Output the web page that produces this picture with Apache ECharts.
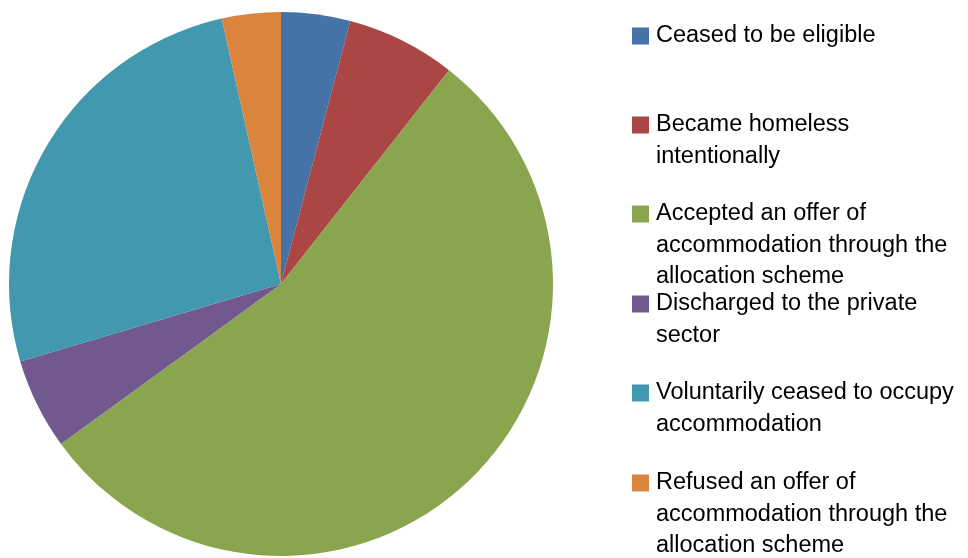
<!DOCTYPE html>
<html>
<head>
<meta charset="utf-8">
<script src="https://cdn.jsdelivr.net/npm/echarts@6/dist/echarts.min.js"></script>
<style>
html, body { margin: 0; padding: 0; background: #fff; }
#chart { width: 968px; height: 558px; }
</style>
</head>
<body>
<div id="chart"></div>
<script>
// share of cases (%)
const categories = [
    "Ceased to be eligible",
    "Became homeless intentionally",
    "Accepted an offer of accommodation through the allocation scheme",
    "Discharged to the private sector",
    "Voluntarily ceased to occupy accommodation",
    "Refused an offer of accommodation through the allocation scheme"
];
const values = [4.1, 6.5, 54.4, 5.4, 26.1, 3.5];
const legendLines = [
    ["Ceased to be eligible"],
    ["Became homeless", "intentionally"],
    ["Accepted an offer of", "accommodation through the", "allocation scheme"],
    ["Discharged to the private", "sector"],
    ["Voluntarily ceased to occupy", "accommodation"],
    ["Refused an offer of", "accommodation through the", "allocation scheme"]
];
const colors = ["#4572A7", "#AA4643", "#89A54E", "#71588F", "#4198AF", "#DB843D"];

const lineH = 31.5;
const firstLineY = [36, 125, 214, 304, 393, 483];

let chart = echarts.init(document.getElementById("chart"), null, { renderer: "canvas" });

// one legend per entry so every entry sits at a fixed step like the original.
// the legend text is centred on the marker, so blank lines go in front to
// keep the marker level with the first line
let legends = categories.map(function(name, i) {
    let n = legendLines[i].length;
    let pad = [];
    for (let k = 1; k < n; k++) pad.push("");
    return {
        data: [name],
        left: 632,
        top: firstLineY[i] - (2 * n - 1) * lineH / 2,
        padding: 0,
        orient: "vertical",
        icon: "rect",
        itemWidth: 17,
        itemHeight: 17,
        selectedMode: false,
        formatter: function() {
            return pad.concat(legendLines[i]).join("\n");
        },
        textStyle: {
            fontFamily: "Liberation Sans",
            fontSize: 23.5,
            color: "#000",
            lineHeight: lineH,
            padding: [0, 0, 0, 2]
        }
    };
});

chart.setOption({
    animation: false,
    color: colors,
    legend: legends,
    series: [{
        type: "pie",
        center: [281, 284],
        radius: 272,
        startAngle: 90,
        clockwise: true,
        label: { show: false },
        labelLine: { show: false },
        emphasis: { disabled: true },
        itemStyle: { borderWidth: 0 },
        data: categories.map(function(name, i) {
            return { name: name, value: values[i] };
        })
    }]
});
</script>
</body>
</html>
